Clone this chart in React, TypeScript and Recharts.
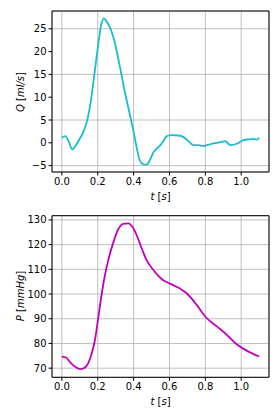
import React from "react"
import { LineChart, Line, XAxis, YAxis, CartesianGrid, ReferenceArea } from "recharts"

// flow rate Q [ml/s]
const qTime = [0, 0.018, 0.037, 0.058, 0.08, 0.1, 0.117, 0.14, 0.164, 0.183, 0.2, 0.219, 0.233, 0.25, 0.267, 0.283, 0.295, 0.323, 0.351, 0.379, 0.403, 0.42, 0.435, 0.453, 0.47, 0.481, 0.495, 0.509, 0.528, 0.547, 0.565, 0.584, 0.612, 0.65, 0.677, 0.705, 0.733, 0.76, 0.79, 0.82, 0.845, 0.87, 0.892, 0.91, 0.94, 0.976, 1.013, 1.04, 1.07, 1.088, 1.1]
const qValues = [1.1, 1.45, 0.4, -1.45, -0.4, 0.9, 2.2, 4.7, 9.8, 15.6, 20.7, 25.8, 27.3, 26.6, 25.4, 23.7, 22.0, 16.8, 11.2, 6.2, 1.8, -1.6, -3.9, -4.7, -4.8, -4.5, -3.4, -2.2, -1.3, -0.6, 0.3, 1.45, 1.7, 1.6, 1.3, 0.4, -0.5, -0.5, -0.7, -0.4, -0.15, 0.05, 0.2, 0.35, -0.5, -0.2, 0.6, 0.75, 0.85, 0.7, 1.1]

// pressure P [mmHg]
const pTime = [0, 0.024, 0.043, 0.062, 0.08, 0.108, 0.136, 0.164, 0.183, 0.2, 0.22, 0.239, 0.257, 0.286, 0.314, 0.342, 0.37, 0.397, 0.426, 0.45, 0.472, 0.509, 0.556, 0.603, 0.659, 0.696, 0.752, 0.799, 0.864, 0.92, 0.966, 1.013, 1.069, 1.1]
const pValues = [74.7, 74.3, 72.7, 71.2, 70.3, 69.6, 70.7, 75.4, 80.8, 88.9, 99, 107.2, 113.2, 120.7, 126.1, 128.4, 128.6, 126.8, 122.2, 117.6, 113.8, 109.8, 106.1, 104.2, 102.2, 100.3, 95.6, 90.9, 86.9, 83.5, 80.2, 77.8, 75.7, 74.7]

const tTicks = [0, 0.2, 0.4, 0.6, 0.8, 1.0]
const qTicks = [-5, 0, 5, 10, 15, 20, 25]
const pTicks = [70, 80, 90, 100, 110, 120, 130]

const qData = qTime.map((t, i) => ({ t, v: qValues[i] }))
const pData = pTime.map((t, i) => ({ t, v: pValues[i] }))

const font = "DejaVu Sans, sans-serif"
const tickStyle = { fontSize: 10, fill: "#000", fontFamily: font }
const tDomain: [number, number] = [-0.055, 1.155]

interface PanelProps {
  data: { t: number; v: number }[]
  height: number
  top: number
  xHeight: number
  yDomain: [number, number]
  yTicks: number[]
  color: string
  yLabel: React.ReactNode
  labelY: number
  xLabelY: number
}

const Panel = ({ data, height, top, xHeight, yDomain, yTicks, color, yLabel, labelY, xLabelY }: PanelProps) => (
  <LineChart width={280} height={height} data={data} margin={{ top, right: 11, left: 0, bottom: 0 }}>
    <CartesianGrid stroke="#b0b0b0" strokeWidth={0.8} />
    <XAxis
      dataKey="t"
      type="number"
      domain={tDomain}
      ticks={tTicks}
      tickFormatter={(v: number) => v.toFixed(1)}
      tick={tickStyle}
      height={xHeight}
      axisLine={false}
      tickLine={{ stroke: "#000" }}
      tickSize={3.5}
      allowDataOverflow
    />
    <YAxis
      type="number"
      domain={yDomain}
      ticks={yTicks}
      tick={tickStyle}
      width={52}
      axisLine={false}
      tickLine={{ stroke: "#000" }}
      tickSize={3.5}
      allowDataOverflow
      tickFormatter={(v: number) => (v < 0 ? "\u2212" + Math.abs(v) : String(v))}
    />
    <ReferenceArea x1={tDomain[0]} x2={tDomain[1]} y1={yDomain[0]} y2={yDomain[1]} fill="none" stroke="#000" strokeWidth={1} />
    <Line dataKey="v" type="monotone" stroke={color} strokeWidth={1.8} dot={false} isAnimationActive={false} />
    <text x={24} y={labelY} textAnchor="middle" fontSize={10} fontFamily={font} fill="#000" transform={`rotate(-90 24 ${labelY})`}>
      {yLabel}
    </text>
    <text x={160.5} y={xLabelY} textAnchor="middle" fontSize={10} fontFamily={font} fill="#000">
      <tspan fontStyle="italic">t</tspan> [<tspan fontStyle="italic">s</tspan>]
    </text>
  </LineChart>
)

export default function App() {
  return (
    <div style={{ width: 280, height: 420, background: "#fff" }}>
      <style>{`body{margin:0}`}</style>
      <Panel
        data={qData}
        height={205}
        top={11}
        xHeight={33}
        yDomain={[-6.4, 28.9]}
        yTicks={qTicks}
        color="#17becf"
        labelY={92}
        xLabelY={200}
        yLabel={
          <>
            <tspan fontStyle="italic">Q</tspan> [<tspan fontStyle="italic">ml/s</tspan>]
          </>
        }
      />
      <Panel
        data={pData}
        height={215}
        top={10.7}
        xHeight={42.7}
        yDomain={[66.3, 131.7]}
        yTicks={pTicks}
        color="#bf00bf"
        labelY={91}
        xLabelY={200}
        yLabel={
          <>
            <tspan fontStyle="italic">P</tspan> [<tspan fontStyle="italic">mmHg</tspan>]
          </>
        }
      />
    </div>
  )
}
